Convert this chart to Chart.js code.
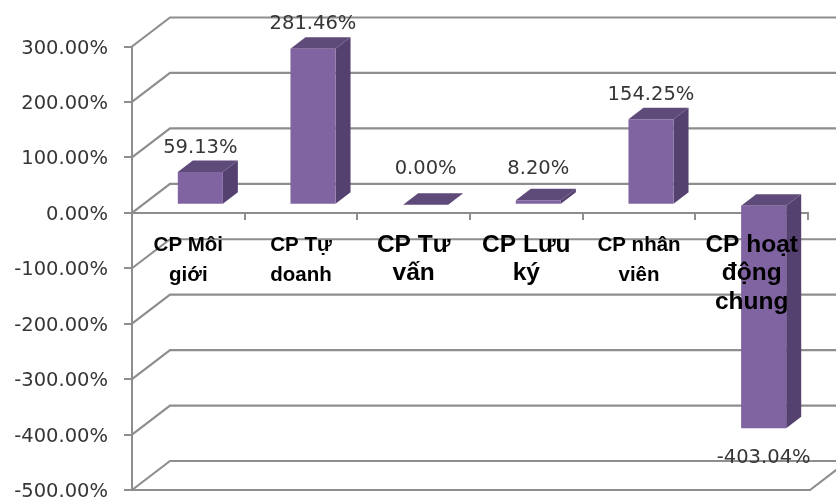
<!DOCTYPE html>
<html>
<head>
<meta charset="utf-8">
<title>Chi phí</title>
<style>
  html, body { margin: 0; padding: 0; background: #fff; }
  canvas { display: block; }
</style>
<script src="https://cdn.jsdelivr.net/npm/chart.js@4"></script>
</head>
<body>
<canvas id="chart" width="836" height="499"></canvas>
<script>
// ====== DATA ======
const categories = [
  ['CP Môi', 'giới'],
  ['CP Tự', 'doanh'],
  ['CP Tư', 'vấn'],
  ['CP Lưu', 'ký'],
  ['CP nhân', 'viên'],
  ['CP hoạt', 'động', 'chung']
];
const percentValues = [59.13, 281.46, 0.00, 8.20, 154.25, -403.04];
const valueLabels = ['59.13%', '281.46%', '0.00%', '8.20%', '154.25%', '-403.04%'];
const largeLabelIndexes = [2, 3, 5];

// ====== STYLE ======
const GRID = '#8e8e8e';
const FRONT = '#8064a2';
const TOP = '#5f4b7a';
const SIDE = '#554170';
const TEXT = '#363636';
const FONT = '"DejaVu Sans", sans-serif';
const WALL = { dx: 38, dy: -29 };      // depth of the fake 3D walls
const BAR_SHIFT = { x: 12, y: -8 };    // bars stand in the middle of the floor
const BAR_DEPTH = { dx: 15, dy: -11.5 };
const LABEL_LIFT = [24.5, 24.5, 35.5, 31.5, 24.5, -29.5];

// ====== PLUGINS ======
const wallsPlugin = {
  id: 'walls',
  beforeDatasetsDraw(c) {
    const { ctx, chartArea, width } = c;
    const y = c.scales.y;
    ctx.save();
    ctx.strokeStyle = GRID;
    ctx.lineWidth = 2.2;
    y.ticks.forEach(t => {
      const py = y.getPixelForValue(t.value);
      ctx.beginPath();
      ctx.moveTo(chartArea.left, py);
      ctx.lineTo(chartArea.left + WALL.dx, py + WALL.dy);
      ctx.lineTo(width, py + WALL.dy);
      ctx.stroke();
    });
    // floor edge at the bottom
    const by = y.getPixelForValue(y.min);
    ctx.beginPath();
    ctx.moveTo(chartArea.left, by);
    ctx.lineTo(chartArea.right + 2, by);
    ctx.lineTo(chartArea.right + 2 + WALL.dx, by + WALL.dy);
    ctx.stroke();
    ctx.restore();
  }
};

const bars3dPlugin = {
  id: 'bars3d',
  beforeDatasetDraw(c) {
    const ctx = c.ctx;
    ctx.save();
    ctx.translate(BAR_SHIFT.x, BAR_SHIFT.y);
    c.getDatasetMeta(0).data.forEach(bar => {
      const left = bar.x - bar.width / 2;
      const right = bar.x + bar.width / 2;
      const top = Math.min(bar.y, bar.base);
      const bottom = Math.max(bar.y, bar.base);
      ctx.fillStyle = TOP;
      ctx.beginPath();
      ctx.moveTo(left, top);
      ctx.lineTo(right, top);
      ctx.lineTo(right + BAR_DEPTH.dx, top + BAR_DEPTH.dy);
      ctx.lineTo(left + BAR_DEPTH.dx, top + BAR_DEPTH.dy);
      ctx.closePath();
      ctx.fill();
      ctx.fillStyle = SIDE;
      ctx.beginPath();
      ctx.moveTo(right, top);
      ctx.lineTo(right + BAR_DEPTH.dx, top + BAR_DEPTH.dy);
      ctx.lineTo(right + BAR_DEPTH.dx, bottom + BAR_DEPTH.dy);
      ctx.lineTo(right, bottom);
      ctx.closePath();
      ctx.fill();
    });
  },
  afterDatasetDraw(c) {
    c.ctx.restore();
  }
};

const valueLabelsPlugin = {
  id: 'valueLabels',
  afterDraw(c) {
    const ctx = c.ctx;
    ctx.save();
    ctx.font = '19.5px ' + FONT;
    ctx.fillStyle = TEXT;
    ctx.textAlign = 'center';
    ctx.textBaseline = 'middle';
    c.getDatasetMeta(0).data.forEach((bar, i) => {
      const edge = percentValues[i] < 0 ? bar.y : Math.min(bar.y, bar.base);
      ctx.fillText(valueLabels[i], bar.x + BAR_SHIFT.x, edge + BAR_SHIFT.y - LABEL_LIFT[i]);
    });
    ctx.restore();
  }
};

// ====== CHART ======
new Chart(document.getElementById('chart').getContext('2d'), {
  type: 'bar',
  data: {
    labels: categories,
    datasets: [{
      data: percentValues,
      backgroundColor: FRONT,
      borderWidth: 0,
      barPercentage: 1,
      categoryPercentage: 0.4
    }]
  },
  plugins: [wallsPlugin, bars3dPlugin, valueLabelsPlugin],
  options: {
    responsive: false,
    animation: false,
    events: [],
    layout: { padding: { top: 46.5, right: 28, bottom: 9, left: 0 } },
    plugins: { legend: { display: false }, tooltip: { enabled: false } },
    scales: {
      x: {
        position: { y: 0 },
        border: { color: GRID, width: 2 },
        grid: { drawOnChartArea: false, color: GRID, lineWidth: 2, tickLength: 6 },
        ticks: {
          z: 1,
          color: '#000',
          padding: 12,
          autoSkip: false,
          maxRotation: 0,
          font: ctx => largeLabelIndexes.includes(ctx.index)
            ? { family: '"Liberation Sans", Arial, sans-serif', weight: 'bold', size: 24.5, lineHeight: 1.16 }
            : { family: '"Liberation Sans", Arial, sans-serif', weight: 'bold', size: 20.5, lineHeight: 1.45 }
        }
      },
      y: {
        min: -500,
        max: 300,
        afterFit(s) { s.width = 132; s.paddingTop = 0; s.paddingBottom = 0; },
        border: { color: GRID, width: 2 },
        grid: { drawOnChartArea: false, color: GRID, lineWidth: 2, tickLength: 8 },
        ticks: {
          stepSize: 100,
          color: TEXT,
          padding: 16,
          labelOffset: 2,
          font: { family: FONT, size: 19.5 },
          callback: v => v.toFixed(2) + '%'
        }
      }
    }
  }
});
</script>
</body>
</html>
